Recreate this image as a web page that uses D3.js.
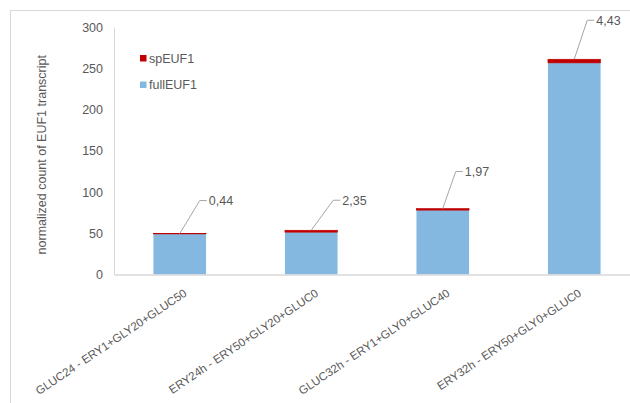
<!DOCTYPE html>
<html>
<head>
<meta charset="utf-8">
<script src="https://cdn.jsdelivr.net/npm/d3@7"></script>
<style>
  html, body { margin: 0; padding: 0; background: #fff; }
  svg { display: block; font-family: "Liberation Sans", Arial, sans-serif; }
</style>
</head>
<body>
<svg id="chart" width="630" height="403"></svg>
<script>
// Conditions on the x axis
const categories = [
  "GLUC24 - ERY1+GLY20+GLUC50",
  "ERY24h - ERY50+GLY20+GLUC0",
  "GLUC32h - ERY1+GLY0+GLUC40",
  "ERY32h - ERY50+GLY0+GLUC0"
];
// Stacked series: full-length transcript at the bottom, spliced on top
const fullEUF1 = [49.2, 51.3, 78.0, 256.5];
const spEUF1 = [0.44, 2.35, 1.97, 4.43];
const spLabels = ["0,44", "2,35", "1,97", "4,43"];
const yTicks = [0, 50, 100, 150, 200, 250, 300];
const seriesNames = ["spEUF1", "fullEUF1"];

const colors = { fullEUF1: "#85b8e0", spEUF1: "#c00000" };
const textColor = "#595959";
const axisColor = "#d9d9d9";

const svg = d3.select("#chart");

// outer chart frame
svg.append("rect")
  .attr("x", 10.5).attr("y", 10.5)
  .attr("width", 640).attr("height", 420)
  .attr("fill", "none").attr("stroke", "#d9d9d9").attr("stroke-width", 1);

const plot = { left: 114, right: 640, top: 27, bottom: 274.5 };

const x = d3.scaleBand().domain(categories)
  .range([plot.left, plot.right]).paddingInner(0.6).paddingOuter(0.3);
const y = d3.scaleLinear().domain([0, 300]).range([plot.bottom, plot.top]);

const rows = categories.map((c, i) => ({ cat: c, fullEUF1: fullEUF1[i], spEUF1: spEUF1[i], label: spLabels[i] }));
const stack = d3.stack().keys(["fullEUF1", "spEUF1"])(rows);

// bars (the thin spliced segment gets a hairline outline so it stays visible)
svg.append("g").selectAll("g").data(stack).join("g")
  .attr("fill", d => colors[d.key])
  .attr("stroke", d => d.key === "spEUF1" ? colors.spEUF1 : "none")
  .attr("stroke-width", 0.6)
  .selectAll("rect").data(d => d).join("rect")
  .attr("x", d => x(d.data.cat))
  .attr("y", d => y(d[1]))
  .attr("width", x.bandwidth())
  .attr("height", d => y(d[0]) - y(d[1]));

// y axis
const yAxis = svg.append("g")
  .attr("transform", `translate(${plot.left},0)`)
  .call(d3.axisLeft(y).tickValues(yTicks).tickSize(0).tickPadding(11));
yAxis.select(".domain").attr("stroke", axisColor);
yAxis.selectAll("text").attr("fill", textColor).attr("font-size", 12.5)
  .attr("font-family", "Liberation Sans, Arial, sans-serif");

// x axis
const xAxis = svg.append("g")
  .attr("transform", `translate(0,${plot.bottom})`)
  .call(d3.axisBottom(x).tickSize(0).tickPadding(10));
xAxis.select(".domain").attr("stroke", axisColor).attr("stroke-width", 1.5);
xAxis.selectAll("text")
  .attr("fill", textColor).attr("font-size", 11.6)
  .attr("font-family", "Liberation Sans, Arial, sans-serif")
  .attr("text-anchor", "end")
  .attr("dy", "0.35em")
  .attr("transform", "translate(0.1,8.9) rotate(-34)");

// y axis title
svg.append("text")
  .attr("transform", `translate(46,${(plot.top + plot.bottom) / 2 + 4}) rotate(-90)`)
  .attr("text-anchor", "middle")
  .attr("fill", textColor).attr("font-size", 12.5)
  .text("normalized count of EUF1 transcript");

// value labels with leader lines for spEUF1
const callouts = [
  { dx: 20, dy: 33 },
  { dx: 22, dy: 30 },
  { dx: 13, dy: 37 },
  { dx: 13, dy: 39 }
];
const lab = svg.append("g");
rows.forEach((r, i) => {
  const cx = x(r.cat) + x.bandwidth() / 2;
  const top = y(r.fullEUF1 + r.spEUF1);
  const c = callouts[i];
  const ex = cx + c.dx, ey = top - c.dy;
  lab.append("path")
    .attr("d", `M${cx},${top} L${ex},${ey} L${ex + 7},${ey}`)
    .attr("fill", "none").attr("stroke", "#a6a6a6").attr("stroke-width", 1);
  lab.append("text")
    .attr("x", ex + 9).attr("y", ey + 4.5)
    .attr("fill", textColor).attr("font-size", 12.5)
    .text(r.label);
});

// legend
const legend = svg.append("g");
seriesNames.forEach((name, i) => {
  const ly = 58 + i * 26.5;
  legend.append("rect")
    .attr("x", 140).attr("y", ly - 3).attr("width", 6.5).attr("height", 6.5)
    .attr("fill", colors[name]);
  legend.append("text")
    .attr("x", 149).attr("y", ly + 4.5)
    .attr("fill", textColor).attr("font-size", 12.5)
    .text(name);
});
</script>
</body>
</html>
